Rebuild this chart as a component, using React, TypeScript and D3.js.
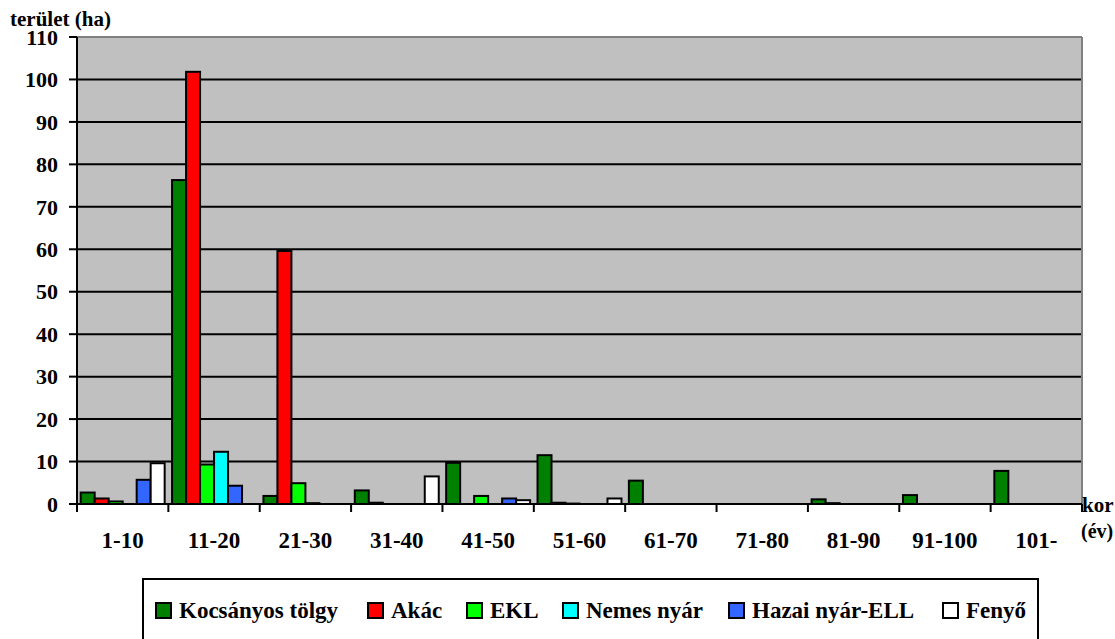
import * as d3 from "d3";

const categories = ["1-10", "11-20", "21-30", "31-40", "41-50", "51-60", "61-70", "71-80", "81-90", "91-100", "101-"];
const seriesNames = ["Kocsányos tölgy", "Akác", "EKL", "Nemes nyár", "Hazai nyár-ELL", "Fenyő"];
const kocsanyos = [2.7, 76.3, 1.9, 3.2, 9.7, 11.5, 5.5, 0, 1.1, 2.1, 7.8];
const akac = [1.3, 101.8, 59.6, 0.3, 0, 0.3, 0, 0, 0.2, 0, 0];
const ekl = [0.6, 9.3, 4.9, 0, 1.9, 0.1, 0, 0, 0, 0, 0];
const nemes = [0, 12.3, 0.2, 0, 0, 0, 0, 0, 0, 0, 0];
const hazai = [5.7, 4.3, 0, 0, 1.3, 0, 0, 0, 0, 0, 0];
const fenyo = [9.6, 0, 0, 6.5, 0.9, 1.3, 0, 0, 0, 0, 0];
const yTicks = [0, 10, 20, 30, 40, 50, 60, 70, 80, 90, 100, 110];

const seriesValues = [kocsanyos, akac, ekl, nemes, hazai, fenyo];
const colors = ["#008000", "#ff0000", "#00ff00", "#00ffff", "#3366ff", "#ffffff"];
const legendX = [156, 368, 467, 563, 729, 943];

const W = 1115;
const H = 639;
const margin = { top: 37, right: 33, bottom: 135, left: 77 };
const font = "'Liberation Serif', Tinos, 'Times New Roman', 'DejaVu Serif', serif";

export default function App() {
  const x0 = d3
    .scaleBand<string>()
    .domain(categories)
    .range([margin.left, W - margin.right]);
  const bw = x0.bandwidth();
  const x1 = d3
    .scaleBand<string>()
    .domain(seriesNames)
    .range([3.7, bw - 3.7]);
  const y = d3
    .scaleLinear()
    .domain([0, 110])
    .range([H - margin.bottom, margin.top]);

  const left = margin.left;
  const right = W - margin.right;
  const bottom = y(0);
  const top = y(110);

  const txt = { fontFamily: font, fontWeight: 700 } as const;

  return (
    <svg width={W} height={H} style={{ position: "absolute", left: 0, top: 0 }}>
      <rect x={0} y={0} width={W} height={H} fill="#ffffff" />
      <rect x={left} y={top} width={right - left} height={bottom - top} fill="#c0c0c0" />

      {/* gridlines */}
      {yTicks.slice(1, -1).map((t) => (
        <line key={t} x1={left} x2={right} y1={y(t)} y2={y(t)} stroke="#000" strokeWidth={2} />
      ))}
      <line x1={left} x2={right} y1={top} y2={top} stroke="#808080" strokeWidth={2} />
      <line x1={right} x2={right} y1={top} y2={bottom} stroke="#808080" strokeWidth={2} />

      {/* bars */}
      {seriesValues.map((vals, si) =>
        vals.map((v, ci) =>
          v > 0 ? (
            <rect
              key={`${si}-${ci}`}
              x={(x0(categories[ci]) ?? 0) + (x1(seriesNames[si]) ?? 0)}
              y={y(v)}
              width={x1.bandwidth()}
              height={bottom - y(v)}
              fill={colors[si]}
              stroke="#000"
              strokeWidth={2}
            />
          ) : null,
        ),
      )}

      {/* axes */}
      <line x1={left} x2={left} y1={top} y2={bottom + 1} stroke="#000" strokeWidth={2} />
      <line x1={left - 1} x2={right} y1={bottom} y2={bottom} stroke="#000" strokeWidth={2} />
      {yTicks.map((t) => (
        <g key={t}>
          <line x1={left - 8} x2={left} y1={y(t)} y2={y(t)} stroke="#000" strokeWidth={2} />
          <text x={left - 19} y={y(t)} dy="0.35em" textAnchor="end" fontSize={22} style={txt}>
            {t}
          </text>
        </g>
      ))}
      {categories.map((c) => (
        <g key={c}>
          <line
            x1={x0(c) ?? 0}
            x2={x0(c) ?? 0}
            y1={bottom}
            y2={bottom + 8}
            stroke="#000"
            strokeWidth={2}
          />
          <text x={(x0(c) ?? 0) + bw / 2} y={548} textAnchor="middle" fontSize={23} style={txt}>
            {c}
          </text>
        </g>
      ))}
      <line x1={right} x2={right} y1={bottom} y2={bottom + 8} stroke="#000" strokeWidth={2} />

      <text x={10} y={26} fontSize={21} style={txt}>
        terület (ha)
      </text>
      <text x={1082} y={512} fontSize={21} style={txt}>
        kor
      </text>
      <text x={1081} y={538} fontSize={20} style={txt}>
        (év)
      </text>

      {/* legend */}
      <rect x={143} y={579} width={1038 - 143} height={90} fill="#fff" stroke="#000" strokeWidth={2} />
      {seriesNames.map((s, i) => (
        <g key={s}>
          <rect
            x={legendX[i]}
            y={603}
            width={15}
            height={15}
            fill={colors[i]}
            stroke="#000"
            strokeWidth={2}
          />
          <text x={legendX[i] + 23} y={618} fontSize={23} style={txt}>
            {s}
          </text>
        </g>
      ))}
    </svg>
  );
}
